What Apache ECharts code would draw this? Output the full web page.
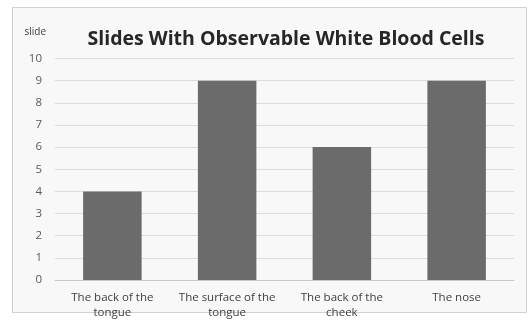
<!DOCTYPE html>
<html><head><meta charset="utf-8">
<script src="https://cdn.jsdelivr.net/npm/echarts@6/dist/echarts.min.js"></script>
<style>html,body{margin:0;padding:0;background:#fff}#c{width:532px;height:320px}</style>
</head><body><div id="c"></div>
<script>
const titleText = 'Slides With Observable White Blood Cells';
const yName = 'slide';
const categories = ['The back of the\ntongue', 'The surface of the\ntongue', 'The back of the\ncheek', 'The nose'];
const values = [4, 9, 6, 9];
const chart = echarts.init(document.getElementById('c'));
chart.setOption({
  backgroundColor: '#ffffff',
  animation: false,
  graphic: [{
    type: 'rect', z: -10,
    shape: {x: 12.5, y: 7.5, width: 514, height: 305},
    style: {fill: '#f8f8f8', stroke: '#d0d0d0', lineWidth: 1}
  }],
  title: {
    text: titleText, left: 281, top: 24, textAlign: 'center',
    textStyle: {fontFamily: 'Open Sans', fontWeight: 'bold', fontSize: 19.5, color: '#262626'}
  },
  grid: {left: 55, right: 18, top: 58.5, bottom: 39.3},
  xAxis: {
    type: 'category', data: categories,
    axisLine: {lineStyle: {color: '#c8c8c8'}},
    axisTick: {show: false},
    axisLabel: {color: '#404040', fontFamily: 'Open Sans', fontSize: 11.5, lineHeight: 15, margin: 10, interval: 0}
  },
  yAxis: {
    type: 'value', min: 0, max: 10, interval: 1,
    name: yName, nameLocation: 'end', nameGap: 21,
    nameTextStyle: {color: '#404040', fontFamily: 'Open Sans', fontSize: 10, align: 'right', padding: [0, 9, 0, 0]},
    axisLine: {show: false}, axisTick: {show: false},
    axisLabel: {color: '#595959', fontFamily: 'Open Sans', fontSize: 11.5, margin: 13},
    splitLine: {lineStyle: {color: '#dcdcdc'}}
  },
  series: [{
    type: 'bar', data: values, barWidth: '51%',
    itemStyle: {color: '#6b6b6b'}
  }]
});
</script></body></html>
